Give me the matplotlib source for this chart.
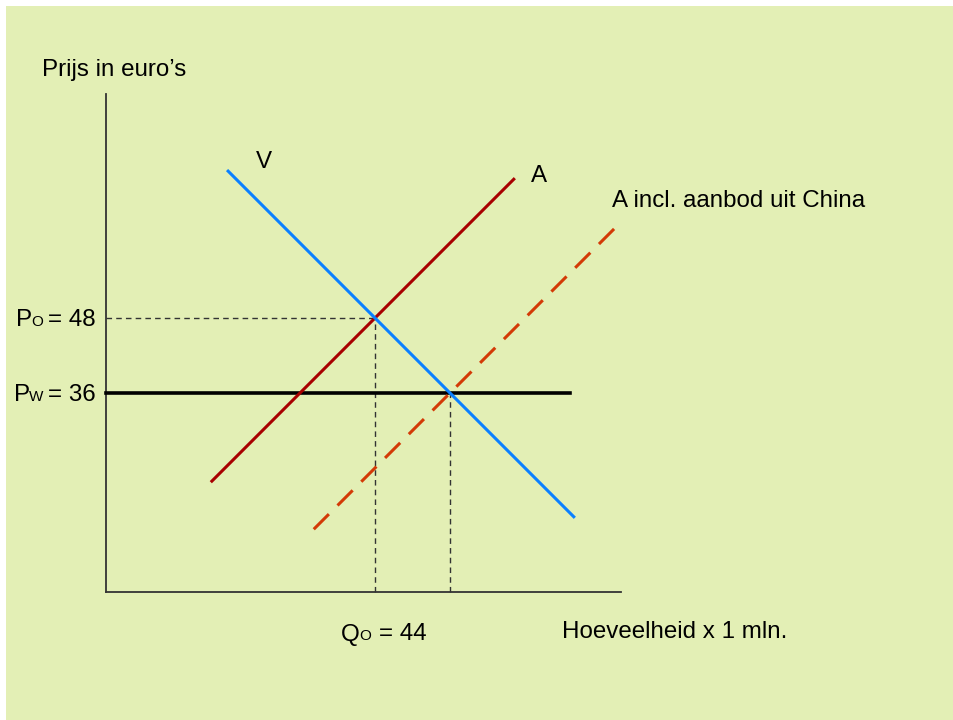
import numpy as np
import matplotlib.pyplot as plt
from matplotlib.patches import Rectangle

plt.rcParams['font.family'] = ['Liberation Sans', 'DejaVu Sans']

# marktmodel: prijs (euro) tegen hoeveelheid (x 1 mln)
q_vraag = [20.5, 75.8]          # V: P = 92 - Q
p_vraag = [71.5, 16.2]
q_aanbod = [17.9, 66.2]         # A: P = Q + 4
p_aanbod = [21.9, 70.2]
q_china = [34.2, 82.6]          # A incl. China: P = Q - 20
p_china = [14.2, 62.6]

p_o, q_o = 48, 44               # evenwicht zonder import
p_w, q_w = 36, 56               # wereldmarktprijs
q_pw_eind = 75.2

x_as = [0.96, 83.4]
y_as = [4.16, 83.8]

BG = '#e3efb5'

fig = plt.figure(figsize=(9.54, 7.2), dpi=100)
ax = fig.add_axes([0, 0, 1, 1])
ax.set_facecolor('none')
# 6.25 px per eenheid, oorsprong op pixel (100, 618)
ax.set_xlim(-16, 136.64)
ax.set_ylim(-16.32, 98.88)
ax.axis('off')
ax.add_patch(Rectangle((6 / 954, 0), 1, 1 - 6 / 720, transform=ax.transAxes,
                       facecolor=BG, edgecolor='none', zorder=0))

# assen
ax.plot([x_as[0], x_as[0]], [y_as[0], y_as[1]], color='#333333', lw=1.3, zorder=2)
ax.plot([x_as[0], x_as[1]], [y_as[0], y_as[0]], color='#333333', lw=1.3, zorder=2)

# hulplijnen
gs = dict(color='#333333', lw=1.0, ls=(0, (4, 3)), zorder=2)
ax.plot([x_as[0], q_o], [p_o, p_o], **gs)
ax.plot([q_o, q_o], [y_as[0], p_o], **gs)
ax.plot([q_w, q_w], [y_as[0], p_w], **gs)

# wereldmarktprijs
ax.plot([x_as[0], q_pw_eind], [p_w, p_w], color='black', lw=2.6, zorder=3)

ax.plot(q_aanbod, p_aanbod, color='#a80000', lw=2.2, zorder=4)
ax.plot(q_vraag, p_vraag, color='#0a80ff', lw=2.2, zorder=5)
ax.plot(q_china, p_china, color='#d33a06', lw=2.2, ls=(0, (7, 4)), zorder=6)

fs = 17.4
fs_klein = 11
ax.text(42 * 0.16 - 16, 98.88 - 70 * 0.16, 'Prijs in euro\u2019s', fontsize=fs, va='center', ha='left')
ax.text(q_vraag[0] + 5.7, p_vraag[0] + 1.4, 'V', fontsize=fs, va='center', ha='center')
ax.text(q_aanbod[1] + 4.0, p_aanbod[1] + 0.5, 'A', fontsize=fs, va='center', ha='center')
ax.text(q_china[1] - 0.6, p_china[1] + 4.1, 'A incl. aanbod uit China', fontsize=fs,
        va='center', ha='left')
ax.text(73.9, -2.2, 'Hoeveelheid x 1 mln.', fontsize=fs, va='center', ha='left')


def label(x, y, groot, klein, rest, dk, dr):
    # groot + klein letter + rest op dezelfde basislijn, pixels vanaf (x, y)
    kw = dict(textcoords='offset pixels', va='baseline', ha='left', annotation_clip=False)
    ax.annotate(groot, (x, y), xytext=(0, 0), fontsize=fs, **kw)
    ax.annotate(klein, (x, y), xytext=(dk, 0), fontsize=fs_klein, **kw)
    ax.annotate(rest, (x, y), xytext=(dr, 0), fontsize=fs, **kw)


label(-16 + 16 * 0.16, p_o - 1.3, 'P', 'O', '= 48', 15, 32)
label(-16 + 14 * 0.16, p_w - 1.3, 'P', 'W', '= 36', 15, 34)
label(-16 + 341 * 0.16, -3.6, 'Q', 'O', '= 44', 18, 38)

fig.savefig('out.png', dpi=100, facecolor='white')
